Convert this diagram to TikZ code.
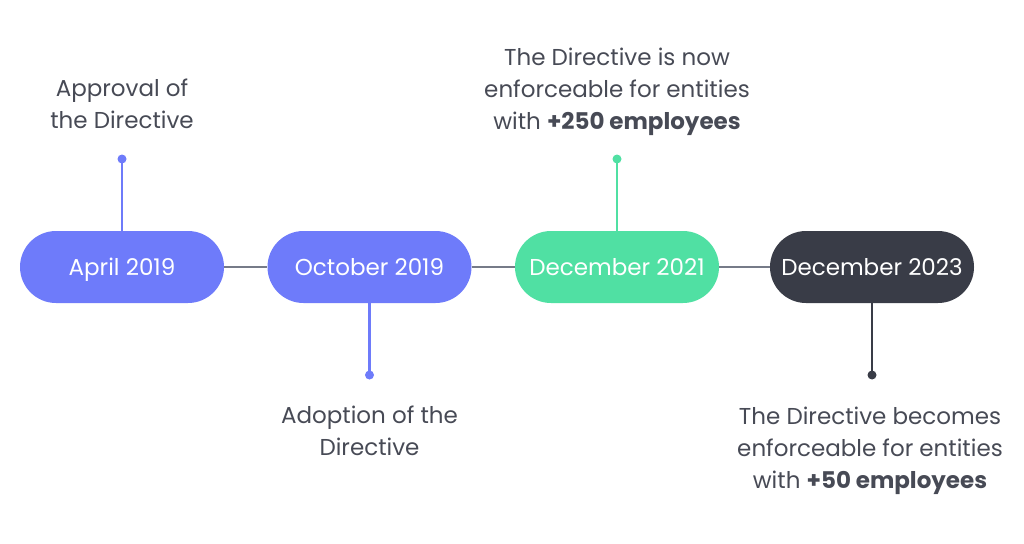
\documentclass[tikz,border=0pt]{standalone}
\usepackage{fontspec}
\setmainfont{Poppins}
\definecolor{purp}{HTML}{6E7BFA}
\definecolor{mint}{HTML}{50E0A3}
\definecolor{ink}{HTML}{393C47}
\definecolor{linegray}{HTML}{767B88}
\definecolor{txt}{HTML}{474A55}
\begin{document}
\begin{tikzpicture}[x=1pt,y=-1pt,
  pill/.style={rectangle,rounded corners=36pt,minimum width=204pt,minimum height=72pt,inner sep=0pt,text=white,text height=16.5pt,text depth=0pt,font=\fontsize{23}{32}\selectfont},
  dotnode/.style={circle,inner sep=0pt,minimum size=9pt},
  lbl/.style={align=center,text=txt,font=\fontsize{23}{32}\selectfont,inner sep=0pt},
  stem/.style={line width=2.5pt},
  link/.style={line width=2.5pt,draw=linegray}]
\useasboundingbox (0,0) rectangle (1024,543);
% pills
\node[pill,fill=purp] (p1) at (122,267) {April 2019};
\node[pill,fill=purp] (p2) at (369.5,267) {October 2019};
\node[pill,fill=mint] (p3) at (617,267) {December 2021};
\node[pill,fill=ink] (p4) at (872,267) {December 2023};
% links
\draw[link] (p1.east) -- (p2.west);
\draw[link] (p2.east) -- (p3.west);
\draw[link] (p3.east) -- (p4.west);
% dots
\node[dotnode,fill=purp] (d1) at (122,159) {};
\node[dotnode,fill=purp] (d2) at (369.5,375) {};
\node[dotnode,fill=mint] (d3) at (617,159) {};
\node[dotnode,fill=ink] (d4) at (872,375) {};
% stems
\draw[stem,draw=purp] (d1.center) -- (p1.north);
\draw[stem,draw=purp] (d2.center) -- (p2.south);
\draw[stem,draw=mint] (d3.center) -- (p3.north);
\draw[stem,draw=ink] (d4.center) -- (p4.south);
% labels
\node[lbl] (l1) at (122,104) {Approval of\\the Directive};
\node[lbl] (l2) at (369.5,431) {Adoption of the\\Directive};
\node[lbl] (l3) at (617,92) {The Directive is now\\enforceable for entities\\with \textbf{+250 employees}};
\node[lbl] (l4) at (870,451) {The Directive becomes\\enforceable for entities\\with \textbf{+50 employees}};
\end{tikzpicture}
\end{document}
